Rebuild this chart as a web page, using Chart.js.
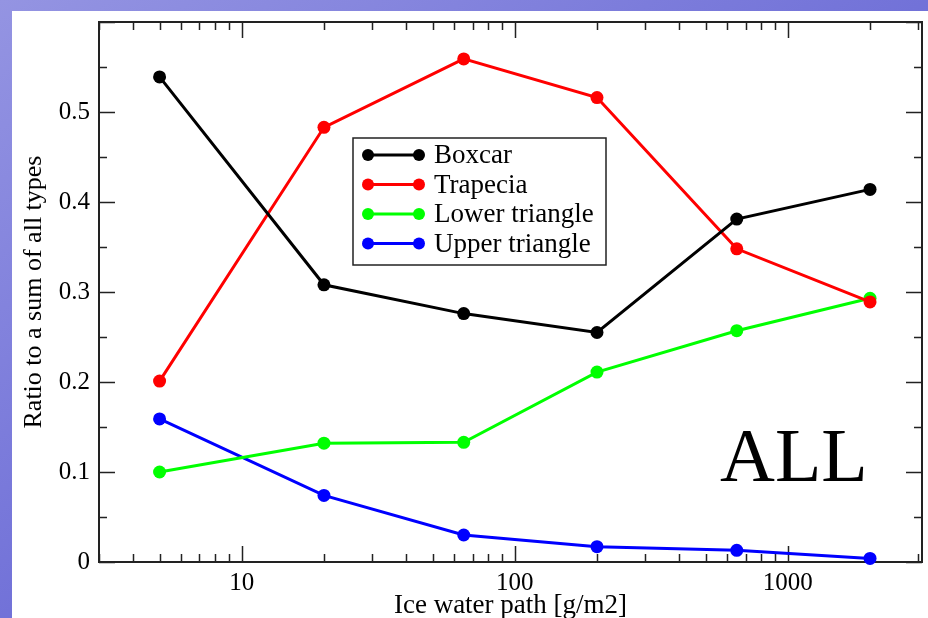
<!DOCTYPE html>
<html>
<head>
<meta charset="utf-8">
<script src="https://cdn.jsdelivr.net/npm/chart.js@4.4.1/dist/chart.umd.min.js"></script>
<style>
  html, body { margin: 0; padding: 0; }
  body {
    width: 928px; height: 618px; overflow: hidden;
    background: linear-gradient(to bottom right, #9494e2 0%, #7272d8 50%, #5656d0 100%);
    position: relative;
  }
  #panel {
    position: absolute; left: 12px; top: 11px; width: 916px; height: 607px;
    background: #fff;
  }
</style>
</head>
<body>
<div id="panel"><canvas id="chart" width="916" height="607"></canvas></div>
<script>
// Ice water path [g/m2] at each point
const iwp = [5, 20, 65, 200, 650, 2000];
const boxcar = [0.539, 0.308, 0.276, 0.255, 0.381, 0.414];
const trapecia = [0.201, 0.483, 0.559, 0.516, 0.348, 0.289];
const lowerTriangle = [0.100, 0.132, 0.133, 0.211, 0.257, 0.293];
const upperTriangle = [0.159, 0.074, 0.030, 0.017, 0.013, 0.004];
const seriesNames = ['Boxcar', 'Trapecia', 'Lower triangle', 'Upper triangle'];
const seriesColors = ['#000000', '#ff0000', '#00ff00', '#0000ff'];
const xTickLabels = [10, 100, 1000];

const serif = "'Liberation Serif', 'Times New Roman', serif";

function makeSet(i, values) {
  return {
    label: seriesNames[i],
    data: values.map((v, k) => ({ x: iwp[k], y: v })),
    borderColor: seriesColors[i],
    backgroundColor: seriesColors[i],
    borderWidth: 3,
    pointRadius: 6.5,
    pointHoverRadius: 6.5,
    pointBorderWidth: 0,
    tension: 0,
    clip: false
  };
}

// Frame plus inward major/minor ticks on all four sides
const framePlugin = {
  id: 'frame',
  beforeDatasetsDraw(chart) {
    const { ctx, chartArea: a, scales } = chart;
    const xs = scales.x, ys = scales.y;
    ctx.save();
    ctx.strokeStyle = '#222';
    ctx.lineWidth = 1.5;
    ctx.beginPath();
    // x ticks
    for (let dec = 1; dec <= 1000; dec *= 10) {
      for (let m = 1; m <= 9; m++) {
        const v = m * dec;
        if (v < xs.min || v > xs.max) continue;
        const px = Math.round(xs.getPixelForValue(v)) + 0.5;
        const len = m === 1 ? 16 : 8;
        ctx.moveTo(px, a.bottom); ctx.lineTo(px, a.bottom - len);
        ctx.moveTo(px, a.top); ctx.lineTo(px, a.top + len);
      }
    }
    // y ticks
    for (let k = 0; k <= 12; k++) {
      const v = k * 0.05;
      const py = Math.round(ys.getPixelForValue(v)) + 0.5;
      const len = k % 2 === 0 ? 16 : 8;
      ctx.moveTo(a.left, py); ctx.lineTo(a.left + len, py);
      ctx.moveTo(a.right, py); ctx.lineTo(a.right - len, py);
    }
    ctx.stroke();
    ctx.lineWidth = 2;
    ctx.strokeRect(a.left, a.top, a.right - a.left, a.bottom - a.top);
    ctx.restore();
  },
  afterDraw(chart) {
    const { ctx } = chart;
    ctx.save();
    // legend box
    const bx = 341, by = 127, bw = 253, bh = 127;
    ctx.fillStyle = '#fff';
    ctx.fillRect(bx, by, bw, bh);
    ctx.strokeStyle = '#222';
    ctx.lineWidth = 1.5;
    ctx.strokeRect(bx, by, bw, bh);
    ctx.font = '27px ' + serif;
    ctx.textBaseline = 'middle';
    chart.data.datasets.forEach((ds, i) => {
      const y = 144 + i * 29.5;
      ctx.strokeStyle = ds.borderColor;
      ctx.fillStyle = ds.borderColor;
      ctx.lineWidth = 3;
      ctx.beginPath();
      ctx.moveTo(356, y); ctx.lineTo(407, y);
      ctx.stroke();
      [356, 407].forEach(px => {
        ctx.beginPath(); ctx.arc(px, y, 6, 0, Math.PI * 2); ctx.fill();
      });
      ctx.fillStyle = '#000';
      ctx.fillText(ds.label, 422, y + 1);
    });
    // big label
    ctx.font = '76px ' + serif;
    ctx.textBaseline = 'alphabetic';
    ctx.fillStyle = '#000';
    ctx.fillText('ALL', 708, 470);
    ctx.restore();
  }
};

new Chart(document.getElementById('chart'), {
  type: 'line',
  data: {
    datasets: [
      makeSet(0, boxcar),
      makeSet(1, trapecia),
      makeSet(2, lowerTriangle),
      makeSet(3, upperTriangle)
    ]
  },
  options: {
    responsive: false,
    animation: false,
    events: [],
    layout: { autoPadding: false, padding: { top: 11, right: 6, left: 0, bottom: 0 } },
    plugins: {
      legend: { display: false },
      tooltip: { enabled: false }
    },
    scales: {
      x: {
        type: 'logarithmic',
        min: 3,
        max: 3100,
        afterBuildTicks: s => { s.ticks = xTickLabels.map(v => ({ value: v })); },
        afterFit: s => { s.height = 56; s.paddingLeft = 0; s.paddingRight = 0; },
        grid: { display: false, drawTicks: false },
        border: { display: false },
        ticks: {
          color: '#000',
          font: { family: serif, size: 25 },
          padding: 6,
          maxRotation: 0,
          autoSkip: false,
          callback: v => String(v)
        },
        title: {
          display: true,
          text: 'Ice water path [g/m2]',
          color: '#000',
          font: { family: serif, size: 27 },
          padding: { top: 0, bottom: -4 }
        }
      },
      y: {
        type: 'linear',
        min: 0,
        max: 0.6,
        afterBuildTicks: s => { s.ticks = s.ticks.filter(t => t.value < 0.55); },
        afterFit: s => { s.width = 87; s.paddingTop = 0; s.paddingBottom = 0; },
        grid: { display: false, drawTicks: false },
        border: { display: false },
        ticks: {
          stepSize: 0.1,
          color: '#000',
          font: { family: serif, size: 25 },
          padding: 9,
          callback: v => String(Number(v.toFixed(1)))
        },
        title: {
          display: true,
          text: 'Ratio to a sum of all types',
          color: '#000',
          font: { family: serif, size: 26 },
          padding: { top: 7, bottom: 0 }
        }
      }
    }
  },
  plugins: [framePlugin]
});
</script>
</body>
</html>
